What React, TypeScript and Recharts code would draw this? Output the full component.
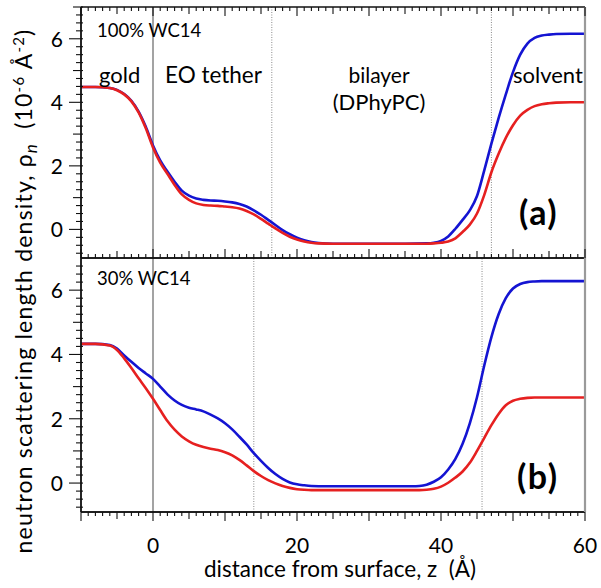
import React from "react";
import { LineChart, Line, XAxis, YAxis, ReferenceLine } from "recharts";

// ---------- data ----------
const zA = [-10, -8, -6, -5, -4, -3, -2, -1, 0, 1, 2, 3, 4, 5, 6, 7, 8, 9, 10, 11, 12, 13, 14, 15, 16, 17, 18, 19, 20, 21, 22, 23, 25, 30, 35, 38, 39, 40, 41, 42, 43, 44, 45, 46, 47, 48, 49, 50, 51, 52, 53, 54, 55, 56, 58, 60];
const redA = [4.48, 4.48, 4.45, 4.38, 4.25, 4.03, 3.68, 3.18, 2.58, 2.1, 1.75, 1.4, 1.1, 0.93, 0.82, 0.77, 0.75, 0.74, 0.72, 0.7, 0.66, 0.58, 0.47, 0.33, 0.18, 0.03, -0.11, -0.23, -0.32, -0.38, -0.42, -0.44, -0.45, -0.45, -0.45, -0.45, -0.44, -0.42, -0.38, -0.28, -0.08, 0.15, 0.5, 1.08, 1.8, 2.38, 2.88, 3.28, 3.58, 3.76, 3.88, 3.94, 3.97, 3.99, 4.0, 4.0];
const blueA = [4.48, 4.48, 4.45, 4.39, 4.26, 4.05, 3.71, 3.23, 2.64, 2.17, 1.82, 1.5, 1.22, 1.06, 0.97, 0.93, 0.91, 0.9, 0.88, 0.85, 0.8, 0.72, 0.6, 0.46, 0.3, 0.14, -0.02, -0.15, -0.26, -0.34, -0.4, -0.43, -0.45, -0.45, -0.45, -0.44, -0.42, -0.36, -0.22, 0.02, 0.3, 0.6, 1.05, 1.85, 2.7, 3.5, 4.25, 4.95, 5.5, 5.85, 6.03, 6.1, 6.13, 6.15, 6.16, 6.16];

const zB = [-10, -8, -6, -5, -4, -3, -2, -1, 0, 1, 2, 3, 4, 5, 6, 7, 8, 9, 10, 11, 12, 13, 14, 15, 16, 17, 18, 19, 20, 21, 22, 24, 30, 36, 37, 38, 39, 40, 41, 42, 43, 44, 45, 46, 47, 48, 49, 50, 51, 52, 53, 54, 56, 60];
const redB = [4.33, 4.33, 4.28, 4.14, 3.88, 3.58, 3.26, 2.95, 2.62, 2.27, 1.93, 1.66, 1.45, 1.3, 1.19, 1.12, 1.07, 1.03, 0.96, 0.86, 0.72, 0.55, 0.37, 0.22, 0.09, -0.01, -0.09, -0.15, -0.19, -0.21, -0.22, -0.22, -0.22, -0.22, -0.22, -0.21, -0.18, -0.11, 0.01, 0.17, 0.36, 0.63, 1.0, 1.4, 1.8, 2.15, 2.42, 2.56, 2.62, 2.65, 2.66, 2.66, 2.66, 2.66];
const blueB = [4.33, 4.33, 4.29, 4.18, 3.97, 3.77, 3.58, 3.41, 3.24, 3.0, 2.76, 2.57, 2.43, 2.34, 2.29, 2.23, 2.13, 2.01, 1.86, 1.67, 1.44, 1.2, 0.93, 0.69, 0.47, 0.28, 0.13, 0.02, -0.04, -0.07, -0.09, -0.1, -0.1, -0.1, -0.09, -0.05, 0.04, 0.18, 0.42, 0.75, 1.22, 1.86, 2.67, 3.65, 4.54, 5.25, 5.75, 6.05, 6.19, 6.25, 6.27, 6.28, 6.28, 6.28];

const regionLinesA = [16.5, 47];
const regionLinesB = [14, 45.7];

const xTicks = [-10, -9, -8, -7, -6, -5, -4, -3, -2, -1, 0, 1, 2, 3, 4, 5, 6, 7, 8, 9, 10, 11, 12, 13, 14, 15, 16, 17, 18, 19, 20, 21, 22, 23, 24, 25, 26, 27, 28, 29, 30, 31, 32, 33, 34, 35, 36, 37, 38, 39, 40, 41, 42, 43, 44, 45, 46, 47, 48, 49, 50, 51, 52, 53, 54, 55, 56, 57, 58, 59, 60];
const xLabelTicks = [0, 20, 40, 60];
const yTicks = [-0.75, -0.5, -0.25, 0, 0.25, 0.5, 0.75, 1, 1.25, 1.5, 1.75, 2, 2.25, 2.5, 2.75, 3, 3.25, 3.5, 3.75, 4, 4.25, 4.5, 4.75, 5, 5.25, 5.5, 5.75, 6, 6.25, 6.5, 6.75, 7];
const yLabelTicks = [0, 2, 4, 6];

const dataA = zA.map((z, i) => ({ z, red: redA[i], blue: blueA[i] }));
const dataB = zB.map((z, i) => ({ z, red: redB[i], blue: blueB[i] }));

// ---------- layout / styles ----------
const FONT = "Lato, 'Open Sans', sans-serif";
const RED = "#e62020";
const BLUE = "#1414d2";
const X_DOMAIN: [number, number] = [-10, 60];
const Y_DOMAIN: [number, number] = [-0.9, 7];
const PL = 81; // plot left
const PR = 585; // plot right
const TOP_A = 7;
const BOT_A = 258;
const TOP_B = 258;
const BOT_B = 512;

// pixel helpers used only for the decorative frame / tick marks
const fx = (v: number) => PL + ((v - X_DOMAIN[0]) * (PR - PL)) / (X_DOMAIN[1] - X_DOMAIN[0]);
const fy = (v: number, top: number, bot: number) => top + ((Y_DOMAIN[1] - v) * (bot - top)) / (Y_DOMAIN[1] - Y_DOMAIN[0]);
const xLen = (v: number) => (v % 10 === 0 ? 9 : v % 5 === 0 ? 7 : 4);
const yLen = (v: number) => (yLabelTicks.includes(v) ? 12 : Number.isInteger(v) ? 8 : 5);

const NoTick = () => <g />;

const XLabelTick = (props: any) => {
  const { x, y, payload } = props;
  const v = payload.value;
  if (!xLabelTicks.includes(v)) return <g />;
  return (
    <text x={x} y={y + 41} textAnchor="middle" fontSize={21} fontFamily={FONT} fill="#000">
      {v}
    </text>
  );
};

const YLabelTick = (props: any) => {
  const { x, y, payload } = props;
  const v = payload.value;
  if (!yLabelTicks.includes(v)) return <g />;
  return (
    <text x={x - 18} y={y + 8} textAnchor="end" fontSize={21} fontFamily={FONT} fill="#000">
      {v}
    </text>
  );
};

function Chart({ data, lines, width, height, marginTop, axisHeight, xTick }: any) {
  return (
    <LineChart width={width} height={height} data={data} margin={{ top: marginTop, right: 16, left: 0, bottom: 0 }}>
      <XAxis xAxisId="b" dataKey="z" type="number" domain={X_DOMAIN} ticks={xTicks} interval={0} height={axisHeight} tickSize={0} tickMargin={0} tick={xTick} tickLine={false} axisLine={{ stroke: "#111", strokeWidth: 1.4 }} allowDataOverflow />
      <YAxis yAxisId="l" type="number" domain={Y_DOMAIN} ticks={yTicks} interval={0} width={81} tickSize={0} tickMargin={0} tick={YLabelTick} tickLine={false} axisLine={{ stroke: "#111", strokeWidth: 1.4 }} allowDataOverflow />
      <ReferenceLine x={0} xAxisId="b" yAxisId="l" stroke="#666" strokeWidth={1.2} />
      {lines.map((lx: number) => (
        <ReferenceLine key={lx} x={lx} xAxisId="b" yAxisId="l" stroke="#8a8a8a" strokeWidth={1} strokeDasharray="1 1.5" />
      ))}
      <Line xAxisId="b" yAxisId="l" type="monotone" dataKey="blue" stroke={BLUE} strokeWidth={2.6} dot={false} isAnimationActive={false} />
      <Line xAxisId="b" yAxisId="l" type="monotone" dataKey="red" stroke={RED} strokeWidth={2.6} dot={false} isAnimationActive={false} />
    </LineChart>
  );
}

function Frame() {
  const k = "#111";
  return (
    <g>
      <line x1={PL} x2={PR} y1={TOP_A} y2={TOP_A} stroke={k} strokeWidth={1.4} />
      <line x1={PL} x2={PR} y1={BOT_A} y2={BOT_A} stroke={k} strokeWidth={1.4} />
      <line x1={PL} x2={PR} y1={BOT_B} y2={BOT_B} stroke={k} strokeWidth={1.4} />
      <line x1={PL} x2={PL} y1={TOP_A} y2={BOT_B} stroke={k} strokeWidth={1.4} />
      <line x1={PR} x2={PR} y1={TOP_A} y2={BOT_B} stroke="#9a9a9a" strokeWidth={2.2} />
      {xTicks.map((v) => (
        <g key={"x" + v}>
          <line x1={fx(v)} x2={fx(v)} y1={TOP_A} y2={TOP_A + xLen(v)} stroke={k} strokeWidth={1.1} />
          <line x1={fx(v)} x2={fx(v)} y1={BOT_A} y2={BOT_A - xLen(v)} stroke={k} strokeWidth={1.1} />
          <line x1={fx(v)} x2={fx(v)} y1={BOT_B} y2={BOT_B + xLen(v)} stroke={k} strokeWidth={1.1} />
        </g>
      ))}
      {yTicks.map((v) => (
        <g key={"y" + v}>
          <line x1={PL - yLen(v)} x2={PL + 2} y1={fy(v, TOP_A, BOT_A)} y2={fy(v, TOP_A, BOT_A)} stroke={k} strokeWidth={1.1} />
          {v < 6.9 && <line x1={PL - yLen(v)} x2={PL + 2} y1={fy(v, TOP_B, BOT_B)} y2={fy(v, TOP_B, BOT_B)} stroke={k} strokeWidth={1.1} />}
        </g>
      ))}
    </g>
  );
}

export default function App() {
  const t = { fontFamily: FONT, fill: "#000" } as any;
  return (
    <div style={{ position: "absolute", left: 0, top: 0, width: 601, height: 588, background: "#fff" }}>
      <div style={{ position: "absolute", left: 0, top: TOP_B }}>
        <Chart data={dataB} lines={regionLinesB} width={601} height={330} marginTop={0} axisHeight={76} xTick={XLabelTick} />
      </div>
      <div style={{ position: "absolute", left: 0, top: 0 }}>
        <Chart data={dataA} lines={regionLinesA} width={601} height={278} marginTop={TOP_A} axisHeight={20} xTick={NoTick} />
      </div>
      <svg width={601} height={588} style={{ position: "absolute", left: 0, top: 0, pointerEvents: "none" }}>
        <Frame />
        <text x={97} y={37} fontSize={18.5} {...t}>100% WC14</text>
        <text x={99} y={83} fontSize={22} {...t}>gold</text>
        <text x={165} y={83} fontSize={22.5} {...t}>EO tether</text>
        <text x={379} y={83} fontSize={21} textAnchor="middle" {...t}>bilayer</text>
        <text x={379} y={110} fontSize={22} textAnchor="middle" {...t}>(DPhyPC)</text>
        <text x={513} y={83} fontSize={22} {...t}>solvent</text>
        <text x={519} y={225} fontSize={34} fontWeight="bold" letterSpacing={1.5} {...t}>(a)</text>
        <text x={97} y={285} fontSize={18.5} {...t}>30% WC14</text>
        <text x={517} y={489} fontSize={34} fontWeight="bold" letterSpacing={1.5} {...t}>(b)</text>
        <text x={340} y={577} fontSize={22.5} textAnchor="middle" {...t} xmlSpace="preserve">distance from surface, z  (Å)</text>
        <text transform="translate(32,291) rotate(-90)" fontSize={23} letterSpacing={1.2} textAnchor="middle" {...t} xmlSpace="preserve">
          neutron scattering length density, ρ<tspan fontStyle="italic" dy={5} fontSize={17}>n</tspan>
          <tspan dy={-5}>  (10</tspan>
          <tspan dy={-8} fontSize={15}>-6</tspan>
          <tspan dy={8}> Å</tspan>
          <tspan dy={-8} fontSize={15}>-2</tspan>
          <tspan dy={8}>)</tspan>
        </text>
      </svg>
    </div>
  );
}
